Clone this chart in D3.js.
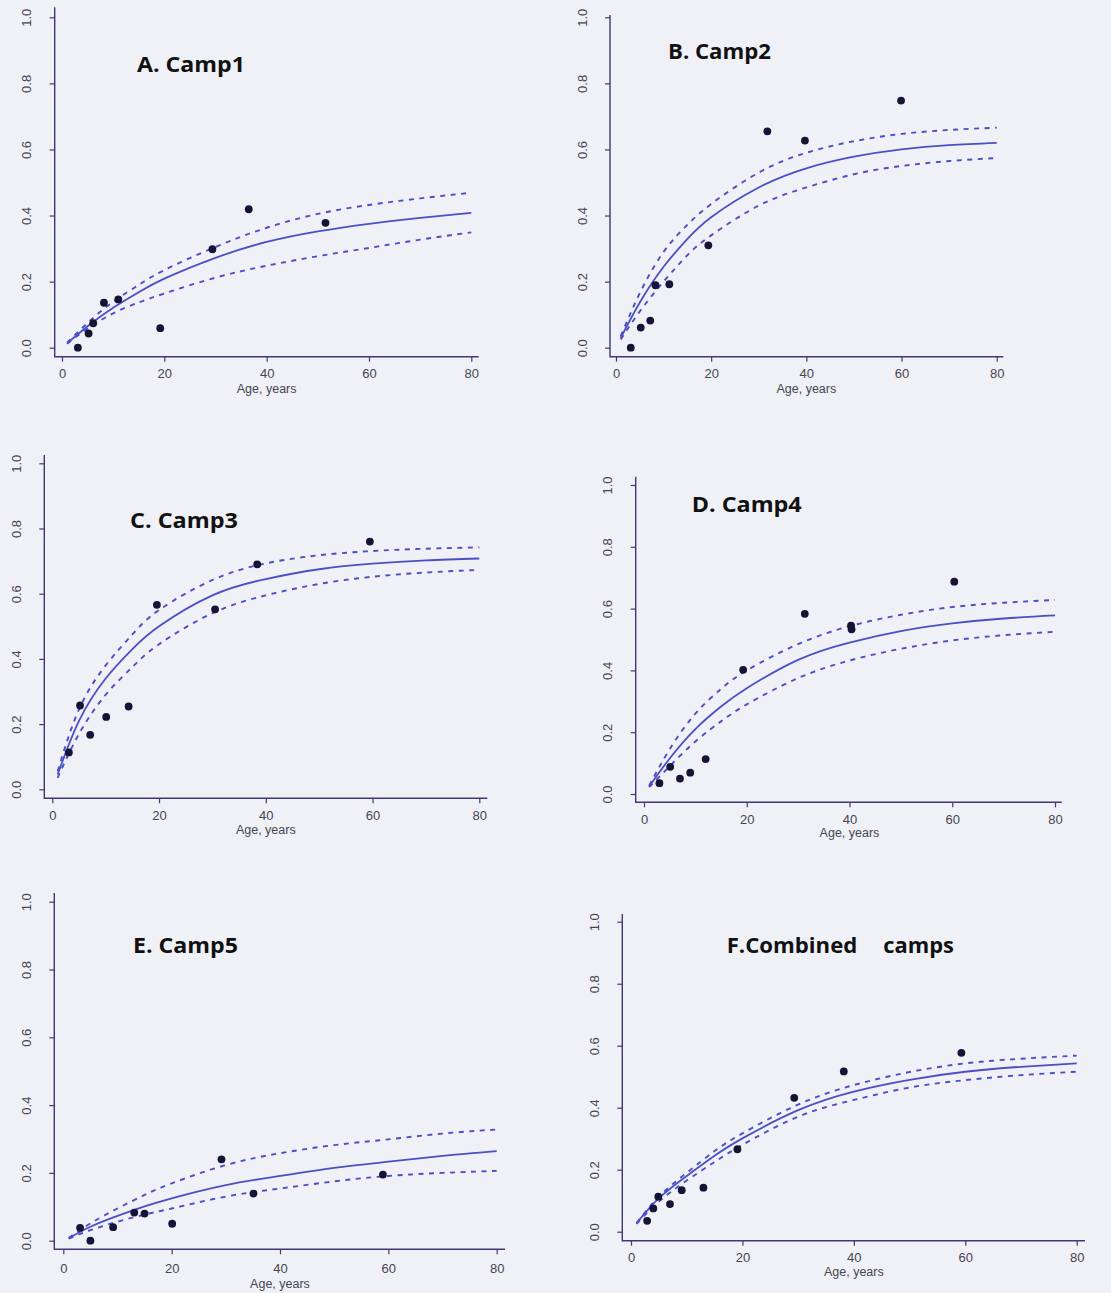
<!DOCTYPE html>
<html>
<head>
<meta charset="utf-8">
<script src="https://cdn.jsdelivr.net/npm/d3@7"></script>
<style>
  html, body { margin: 0; padding: 0; background: #f0f1f7; }
  svg { display: block; }
</style>
</head>
<body>
<svg id="chart" width="1111" height="1293"></svg>
<script>
// ---------------- DATA ----------------
const xTickValues = [0, 20, 40, 60, 80];
const yTickValues = [0, 0.2, 0.4, 0.6, 0.8, 1.0];
const xAxisTitle = "Age, years";

const fitAge = [1, 5, 10, 15, 20, 30, 40, 50, 60, 70, 80];

// A. Camp1
const campA_title = "A. Camp1";
const campA_age  = [3.1, 5.2, 6.1, 8.2, 11.0, 19.2, 29.4, 36.5, 51.5];
const campA_prev = [0.0, 0.043, 0.074, 0.136, 0.146, 0.059, 0.298, 0.419, 0.378];
const campA_fit  = [0.013, 0.065, 0.121, 0.168, 0.209, 0.272, 0.320, 0.352, 0.375, 0.393, 0.408];
const campA_hi   = [0.015, 0.075, 0.139, 0.190, 0.235, 0.305, 0.363, 0.405, 0.432, 0.452, 0.469];
const campA_lo   = [0.012, 0.058, 0.104, 0.137, 0.164, 0.212, 0.248, 0.277, 0.302, 0.327, 0.349];

// B. Camp2
const campB_title = "B. Camp2";
const campB_age  = [3.1, 5.2, 7.2, 8.3, 11.2, 19.4, 31.8, 39.7, 59.9];
const campB_prev = [0.0, 0.061, 0.082, 0.189, 0.192, 0.310, 0.655, 0.627, 0.748];
const campB_fit  = [0.030, 0.137, 0.245, 0.329, 0.395, 0.485, 0.543, 0.578, 0.600, 0.613, 0.620];
const campB_hi   = [0.035, 0.165, 0.290, 0.372, 0.435, 0.530, 0.590, 0.625, 0.647, 0.659, 0.666];
const campB_lo   = [0.025, 0.110, 0.200, 0.280, 0.340, 0.430, 0.485, 0.525, 0.550, 0.565, 0.574];

// C. Camp3
const campC_title = "C. Camp3";
const campC_age  = [3.1, 5.2, 7.1, 10.1, 14.3, 19.6, 30.5, 38.4, 59.5];
const campC_prev = [0.113, 0.257, 0.167, 0.222, 0.254, 0.566, 0.552, 0.690, 0.760];
const campC_fit  = [0.045, 0.210, 0.340, 0.430, 0.500, 0.595, 0.645, 0.675, 0.692, 0.702, 0.708];
const campC_hi   = [0.055, 0.245, 0.380, 0.475, 0.550, 0.642, 0.693, 0.718, 0.731, 0.738, 0.742];
const campC_lo   = [0.035, 0.170, 0.290, 0.375, 0.445, 0.540, 0.595, 0.630, 0.652, 0.665, 0.673];

// D. Camp4
const campD_title = "D. Camp4";
const campD_age  = [3.0, 5.1, 7.0, 9.0, 12.0, 19.3, 31.3, 40.3, 40.4, 60.4];
const campD_prev = [0.035, 0.088, 0.050, 0.069, 0.113, 0.402, 0.583, 0.545, 0.533, 0.687];
const campD_fit  = [0.024, 0.115, 0.210, 0.283, 0.342, 0.434, 0.490, 0.527, 0.552, 0.568, 0.578];
const campD_hi   = [0.027, 0.145, 0.260, 0.340, 0.400, 0.485, 0.543, 0.580, 0.605, 0.619, 0.628];
const campD_lo   = [0.022, 0.090, 0.170, 0.235, 0.290, 0.375, 0.432, 0.470, 0.497, 0.514, 0.525];

// E. Camp5
const campE_title = "E. Camp5";
const campE_age  = [3.1, 5.0, 9.2, 13.1, 15.0, 20.1, 29.2, 35.1, 59.0];
const campE_prev = [0.038, 0.0, 0.040, 0.083, 0.080, 0.050, 0.240, 0.139, 0.195];
const campE_fit  = [0.007, 0.041, 0.073, 0.101, 0.125, 0.164, 0.191, 0.215, 0.233, 0.250, 0.264];
const campE_hi   = [0.008, 0.051, 0.095, 0.135, 0.169, 0.223, 0.258, 0.282, 0.299, 0.316, 0.328];
const campE_lo   = [0.006, 0.031, 0.056, 0.077, 0.095, 0.130, 0.154, 0.175, 0.191, 0.200, 0.206];

// F. Combined camps
const campF_title = ["F.Combined", "camps"];
const campF_age  = [2.9, 4.0, 4.9, 7.0, 9.1, 13.0, 19.1, 29.3, 38.2, 59.3];
const campF_prev = [0.035, 0.075, 0.113, 0.089, 0.134, 0.142, 0.266, 0.432, 0.517, 0.577];
const campF_fit  = [0.027, 0.108, 0.180, 0.245, 0.301, 0.392, 0.452, 0.490, 0.516, 0.532, 0.543];
const campF_hi   = [0.028, 0.113, 0.190, 0.260, 0.317, 0.410, 0.473, 0.515, 0.543, 0.558, 0.568];
const campF_lo   = [0.025, 0.097, 0.165, 0.225, 0.280, 0.371, 0.425, 0.465, 0.489, 0.505, 0.516];

// ---------------- LAYOUT ----------------
const panels = [
  { title: [campA_title], titleX: [137], titleW: [108], titleY: 72,
    age: campA_age, prev: campA_prev, fit: campA_fit, hi: campA_hi, lo: campA_lo,
    x0: 62, x80: 471.3, y0: 347.7, y1: 17.3,
    boxL: 54.7, boxB: 356.7, boxT: 7.3, boxR: 478.7, tickOff: 16.7, titleOff: 31.5 },
  { title: [campB_title], titleX: [668], titleW: [103], titleY: 59.3,
    age: campB_age, prev: campB_prev, fit: campB_fit, hi: campB_hi, lo: campB_lo,
    x0: 616, x80: 996.7, y0: 347.7, y1: 17.3,
    boxL: 610, boxB: 356.7, boxT: 15, boxR: 1003.3, tickOff: 16.7, titleOff: 31.5 },
  { title: [campC_title], titleX: [130], titleW: [108], titleY: 528.3,
    age: campC_age, prev: campC_prev, fit: campC_fit, hi: campC_hi, lo: campC_lo,
    x0: 52.3, x80: 479.3, y0: 789.3, y1: 463.3,
    boxL: 44.3, boxB: 798.3, boxT: 455, boxR: 487.3, tickOff: 16.7, titleOff: 31 },
  { title: [campD_title], titleX: [691.7], titleW: [110], titleY: 511.7,
    age: campD_age, prev: campD_prev, fit: campD_fit, hi: campD_hi, lo: campD_lo,
    x0: 644, x80: 1055, y0: 794, y1: 485,
    boxL: 635.7, boxB: 802.3, boxT: 476.7, boxR: 1061.7, tickOff: 16.7, titleOff: 30 },
  { title: [campE_title], titleX: [133], titleW: [105], titleY: 953.3,
    age: campE_age, prev: campE_prev, fit: campE_fit, hi: campE_hi, lo: campE_lo,
    x0: 63.3, x80: 496.7, y0: 1240.7, y1: 901.7,
    boxL: 54.3, boxB: 1249.3, boxT: 893, boxR: 505, tickOff: 19, titleOff: 34 },
  { title: campF_title, titleX: [726.7, 883.3], titleW: [130.6, 70.7], titleY: 953.3,
    age: campF_age, prev: campF_prev, fit: campF_fit, hi: campF_hi, lo: campF_lo,
    x0: 631, x80: 1076.7, y0: 1231.7, y1: 921.7,
    boxL: 622.3, boxB: 1240.7, boxT: 914, boxR: 1085, tickOff: 16.7, titleOff: 30.3 }
];

const AXIS_COL = "#3a3a76";
const LINE_COL = "#4a4fc4";
const PT_COL = "#141436";
const LABEL_COL = "#45454f";
const FONT = "'Liberation Sans', Arial, sans-serif";
const TITLE_FONT = "'Open Sans', 'Noto Sans', sans-serif";

const svg = d3.select("#chart");
svg.append("rect").attr("width", 1111).attr("height", 1293).attr("fill", "#f0f1f7");

panels.forEach(p => {
  const g = svg.append("g");
  const x = d3.scaleLinear().domain([0, 80]).range([p.x0, p.x80]);
  const y = d3.scaleLinear().domain([0, 1]).range([p.y0, p.y1]);

  // L-shaped box
  g.append("path")
    .attr("d", `M${p.boxL},${p.boxT}V${p.boxB}H${p.boxR}`)
    .attr("fill", "none").attr("stroke", AXIS_COL).attr("stroke-width", 1.4);

  // x axis
  const xa = g.append("g").attr("transform", `translate(0,${p.boxB})`)
    .call(d3.axisBottom(x).tickValues(xTickValues).tickSize(5).tickFormat(d3.format("d")));
  xa.select(".domain").remove();
  xa.selectAll(".tick line").attr("stroke", AXIS_COL).attr("stroke-width", 1.2);
  xa.selectAll(".tick text")
    .attr("y", p.tickOff + 4.6).attr("dy", 0)
    .attr("fill", LABEL_COL).style("font-family", FONT).style("font-size", "13px");

  // y axis
  const ya = g.append("g").attr("transform", `translate(${p.boxL},0)`)
    .call(d3.axisLeft(y).tickValues(yTickValues).tickSize(5).tickFormat(d3.format(".1f")));
  ya.select(".domain").remove();
  ya.selectAll(".tick line").attr("stroke", AXIS_COL).attr("stroke-width", 1.2);
  ya.selectAll(".tick text")
    .attr("transform", "rotate(-90)")
    .attr("x", 0).attr("y", -28).attr("dy", "0.35em")
    .attr("text-anchor", "middle")
    .attr("fill", LABEL_COL).style("font-family", FONT).style("font-size", "13px");

  // x axis title
  g.append("text")
    .attr("x", x(40)).attr("y", p.boxB + p.titleOff + 4.5)
    .attr("text-anchor", "middle")
    .attr("fill", LABEL_COL).style("font-family", FONT).style("font-size", "12.5px")
    .text(xAxisTitle);

  // fitted curve + confidence band
  const rows = fitAge.map((a, i) => ({ a, f: p.fit[i], h: p.hi[i], l: p.lo[i] }));
  const mk = key => d3.line().x(d => x(d.a)).y(d => y(d[key])).curve(d3.curveNatural);
  ["h", "l"].forEach(k => {
    g.append("path").datum(rows).attr("d", mk(k))
      .attr("fill", "none").attr("stroke", LINE_COL).attr("stroke-width", 1.9)
      .attr("stroke-dasharray", "5,5.5");
  });
  g.append("path").datum(rows).attr("d", mk("f"))
    .attr("fill", "none").attr("stroke", LINE_COL).attr("stroke-width", 1.8);

  // observed points
  g.selectAll("circle.pt").data(p.age.map((a, i) => ({ a, v: p.prev[i] })))
    .join("circle").attr("class", "pt")
    .attr("cx", d => x(d.a)).attr("cy", d => y(d.v)).attr("r", 3.9)
    .attr("fill", PT_COL);

  // panel title
  p.title.forEach((t, i) => {
    g.append("text")
      .attr("x", p.titleX[i]).attr("y", p.titleY)
      .attr("textLength", p.titleW[i]).attr("lengthAdjust", "spacingAndGlyphs")
      .attr("fill", "#111")
      .style("font-family", TITLE_FONT).style("font-weight", "700").style("font-size", "21px")
      .text(t);
  });
});
</script>
</body>
</html>
